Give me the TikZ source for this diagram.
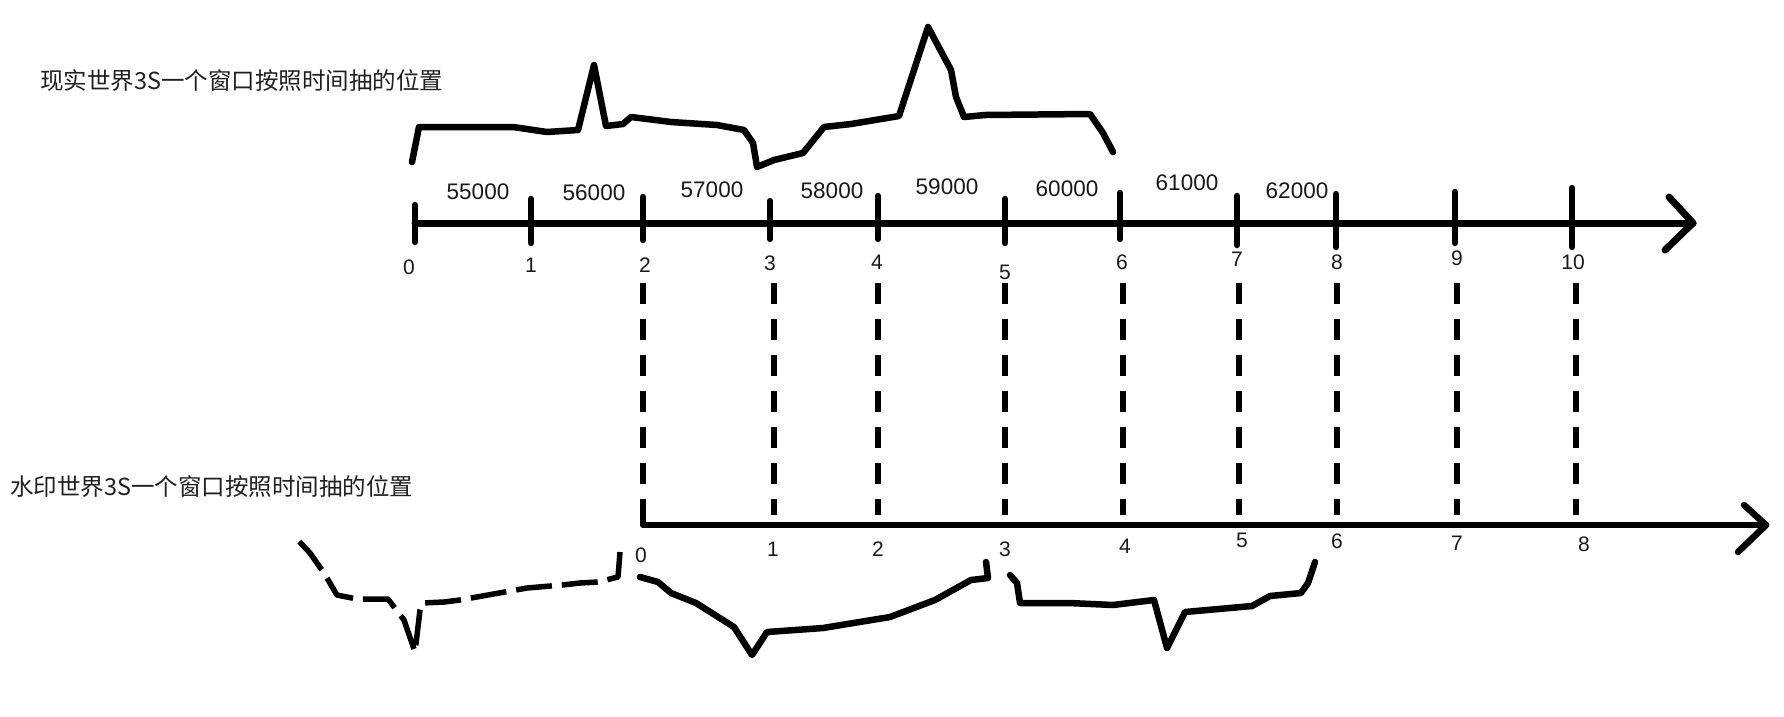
\documentclass[tikz,border=0pt]{standalone}
\usepackage{fontspec}
\setmainfont{Liberation Sans}
\newfontfamily\cjkfont{Noto Sans CJK SC}
\usepackage{tikz}
\usetikzlibrary{positioning}
\tikzset{
  axisline/.style={line width=7pt,line cap=round,line join=round},
  tickmark/.style={line width=6.5pt,line cap=round},
  guideline/.style={line width=5.5pt,dash pattern=on 21pt off 15pt},
  winshape/.style={line width=6.5pt,line cap=round,line join=round},
  lostshape/.style={line width=5.5pt,line join=round,dash pattern=on 36pt off 10pt},
  titletext/.style={font=\cjkfont\fontsize{23.5}{28}\selectfont,text=black!88,inner sep=0pt,anchor=west},
  valuetext/.style={font=\fontsize{22.5}{26}\selectfont,text=black!90,inner sep=0pt},
  ticktext/.style={font=\fontsize{21}{25}\selectfont,text=black!90,inner sep=0pt}
}

\begin{document}
\begin{tikzpicture}[x=1pt,y=-1pt]
\useasboundingbox[fill=white] (0,0) rectangle (1784,716);

% titles
\node[titletext] (realtitle) at (40,81) {现实世界3S一个窗口按照时间抽的位置};
\node[titletext] (marktitle) at (10,487) {水印世界3S一个窗口按照时间抽的位置};

% top axis: real world
\coordinate (t0) at (415,223);
\coordinate (t1) at (531,223);
\coordinate (t2) at (643,223);
\coordinate (t3) at (770,223);
\coordinate (t4) at (878,223);
\coordinate (t5) at (1005,223);
\coordinate (t6) at (1120,223);
\coordinate (t7) at (1237,223);
\coordinate (t8) at (1336,223);
\coordinate (t9) at (1455,223);
\coordinate (t10) at (1572,223);
\coordinate (tend) at (1693,223);
\draw[axisline] (t0) -- (tend);
\draw[axisline] (tend) ++(-24,-26) -- (tend) -- ++(-28,27);

\draw[tickmark] (t0) ++(0,-18) -- ++(0,37);
\draw[tickmark] (t1) ++(0,-24) -- ++(0,44);
\draw[tickmark] (t2) ++(0,-26) -- ++(0,43);
\draw[tickmark] (t3) ++(0,-22) -- ++(0,38);
\draw[tickmark] (t4) ++(0,-27) -- ++(0,43);
\draw[tickmark] (t5) ++(0,-24) -- ++(0,44);
\draw[tickmark] (t6) ++(0,-30) -- ++(0,46);
\draw[tickmark] (t7) ++(0,-27) -- ++(0,49);
\draw[tickmark] (t8) ++(0,-29) -- ++(0,53);
\draw[tickmark] (t9) ++(0,-31) -- ++(0,51);
\draw[tickmark] (t10) ++(0,-35) -- ++(0,59);

\node[ticktext] (tl0) at (409,267) {0};
\node[ticktext] (tl1) at (531,265) {1};
\node[ticktext] (tl2) at (645,265) {2};
\node[ticktext] (tl3) at (770,263) {3};
\node[ticktext] (tl4) at (877,262) {4};
\node[ticktext] (tl5) at (1005,272) {5};
\node[ticktext] (tl6) at (1122,262) {6};
\node[ticktext] (tl7) at (1237,259) {7};
\node[ticktext] (tl8) at (1337,262) {8};
\node[ticktext] (tl9) at (1457,258) {9};
\node[ticktext] (tl10) at (1573,262) {10};

\node[valuetext] (v55) at (478,192) {55000};
\node[valuetext] (v56) at (594,193) {56000};
\node[valuetext] (v57) at (712,190) {57000};
\node[valuetext] (v58) at (832,191) {58000};
\node[valuetext] (v59) at (947,187) {59000};
\node[valuetext] (v60) at (1067,189) {60000};
\node[valuetext] (v61) at (1187,183) {61000};
\node[valuetext] (v62) at (1297,191) {62000};

% window in real time
\draw[winshape] (412,162) -- (419,127) -- (513,127) -- (547,132) -- (578,130) -- (594,65)
  -- (606,126) -- (623,124) -- (631,117) -- (671,122) -- (717,125) -- (744,130) -- (753,143)
  -- (757,167) -- (774,160) -- (803,153) -- (824,127) -- (851,124) -- (899,116) -- (928,27)
  -- (951,70) -- (956,97) -- (964,117) -- (985,115) -- (1090,114) -- (1103,133) -- (1113,152);

% bottom axis: watermark world
\coordinate (b0) at (643,525);
\coordinate (b1) at (774,525);
\coordinate (b2) at (878,525);
\coordinate (b3) at (1005,525);
\coordinate (b4) at (1123,525);
\coordinate (b5) at (1239,525);
\coordinate (b6) at (1337,525);
\coordinate (b7) at (1457,525);
\coordinate (b8) at (1576,525);
\coordinate (bend) at (1766,525);
\coordinate (gtop) at (0,283);
\coordinate (gbot) at (0,515);
\draw[axisline,line width=6.5pt] (b0) ++(0,-20) -- (b0) -- (bend);
\draw[axisline,line width=6.5pt] (bend) ++(-22,-20) -- (bend) -- ++(-28,27);

\draw[guideline] (b0 |- gtop) -- ([yshift=-14pt]b0 |- gbot);
\draw[guideline] (b1 |- gtop) -- (b1 |- gbot);
\draw[guideline] (b2 |- gtop) -- (b2 |- gbot);
\draw[guideline] (b3 |- gtop) -- (b3 |- gbot);
\draw[guideline] (b4 |- gtop) -- (b4 |- gbot);
\draw[guideline] (b5 |- gtop) -- (b5 |- gbot);
\draw[guideline] (b6 |- gtop) -- (b6 |- gbot);
\draw[guideline] (b7 |- gtop) -- (b7 |- gbot);
\draw[guideline] (b8 |- gtop) -- (b8 |- gbot);

\node[ticktext] (bl0) at (641,555) {0};
\node[ticktext] (bl1) at (773,549) {1};
\node[ticktext] (bl2) at (878,549) {2};
\node[ticktext] (bl3) at (1005,549) {3};
\node[ticktext] (bl4) at (1125,546) {4};
\node[ticktext] (bl5) at (1242,540) {5};
\node[ticktext] (bl6) at (1337,541) {6};
\node[ticktext] (bl7) at (1457,543) {7};
\node[ticktext] (bl8) at (1584,544) {8};

% windows in watermark time
\draw[lostshape] (620,552) -- (618,577) -- (598,582) -- (580,583) -- (562,585) -- (527,588)
  -- (460,600) -- (444,602) -- (422,603) -- (420,610) -- (415,652) -- (404,620) -- (388,599)
  -- (357,599) -- (337,595) -- (324,573) -- (310,553) -- (295,537);
\draw[winshape] (640,577) -- (658,582) -- (671,593) -- (696,603) -- (734,627) -- (752,655)
  -- (767,632) -- (823,628) -- (890,617) -- (935,600) -- (971,580) -- (988,578) -- (986,562);
\draw[winshape] (1010,575) -- (1017,583) -- (1020,603) -- (1069,603) -- (1113,605) -- (1154,600)
  -- (1167,648) -- (1185,612) -- (1252,606) -- (1270,596) -- (1301,593) -- (1308,583) -- (1315,562);
\end{tikzpicture}
\end{document}
